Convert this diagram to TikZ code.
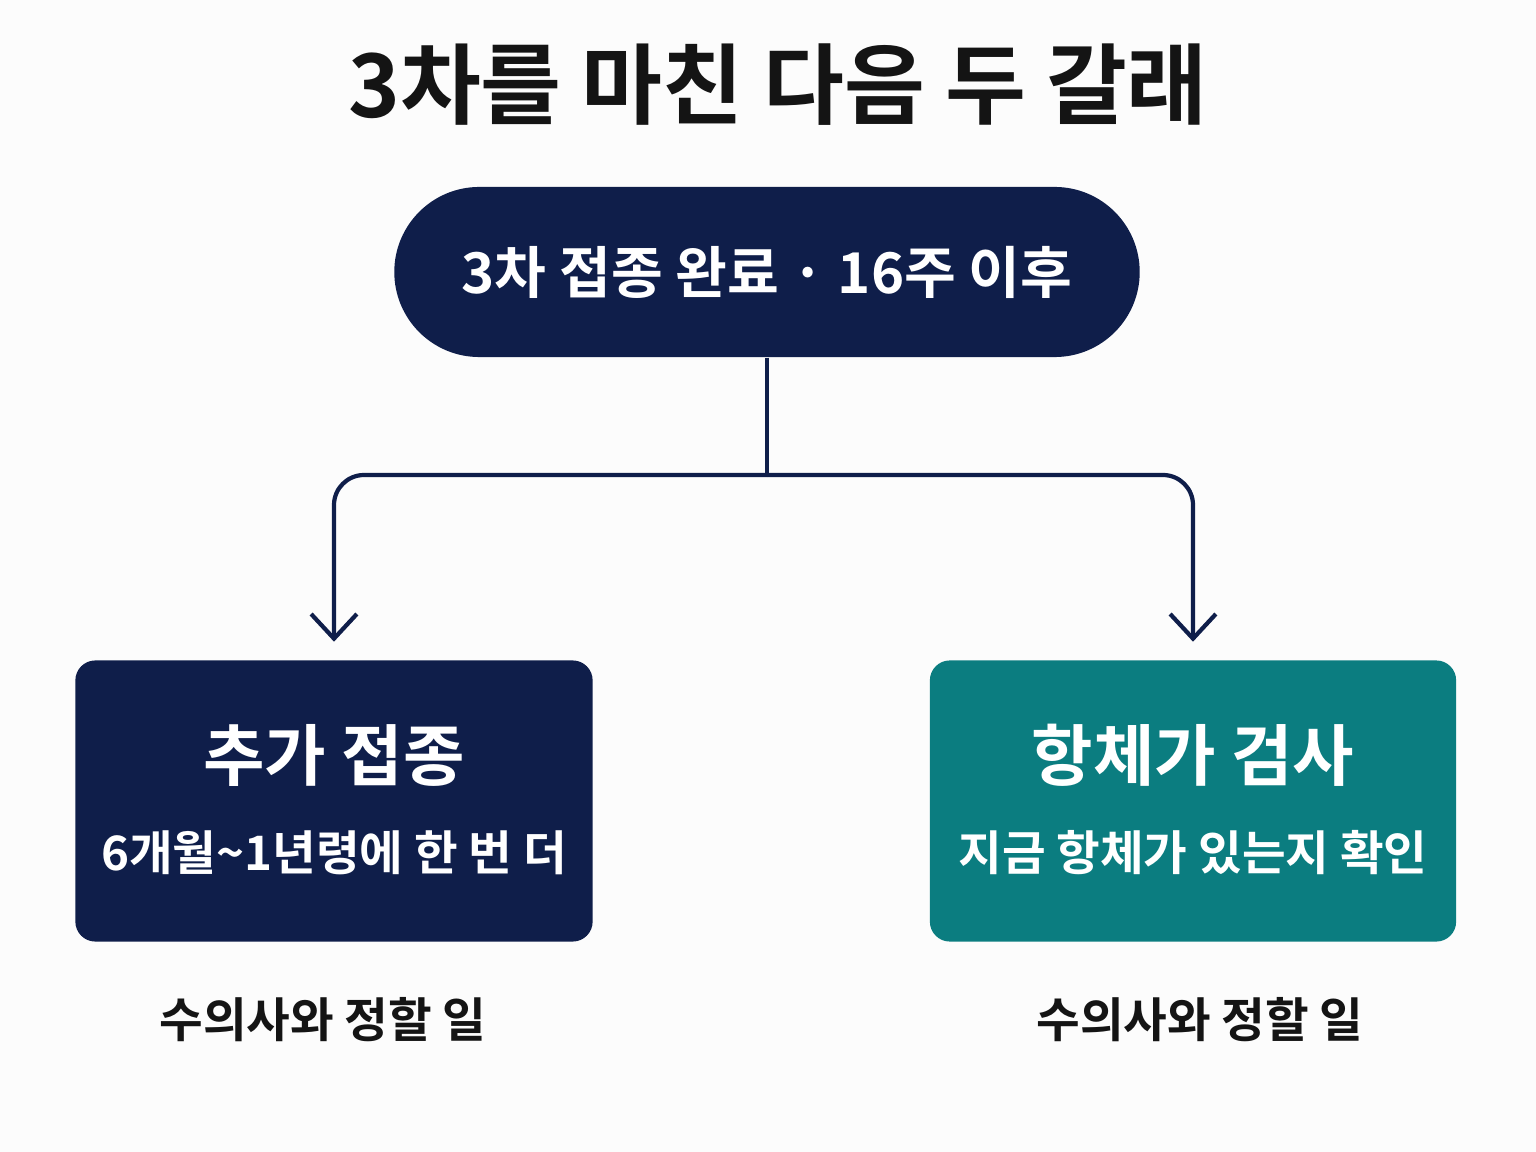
\documentclass[tikz,border=0pt]{standalone}
\usepackage{fontspec}
\usepackage{xcolor}
\setmainfont{Noto Sans CJK KR}
\newfontfamily\krbold{Noto Sans CJK KR Bold}
\usetikzlibrary{arrows.meta}
\definecolor{navy}{HTML}{0F1E4A}
\definecolor{tealbox}{HTML}{0B7D80}
\definecolor{ink}{HTML}{141414}

\begin{document}
\begin{tikzpicture}[x=0.01cm, y=-0.01cm,
    card/.style={rounded corners=0.2cm, minimum height=2.81cm, inner sep=0pt},
    link/.style={draw=navy, line width=1.2pt, rounded corners=0.3cm, -{Straight Barb[length=7pt, width=13pt, line width=1.2pt]}, shorten >=0.18cm}]
      \useasboundingbox[fill=white!98!gray] (0,0) rectangle (1536,1152);
      \node[font=\krbold\fontsize{25}{28}\selectfont, text=ink] (title) at (778,85) {3차를 마친 다음 두 갈래};
      \node[fill=navy, rounded corners=0.85cm, minimum width=7.45cm, minimum height=1.7cm,
            text=white, font=\krbold\fontsize{16}{18}\selectfont] (start) at (767,272) {3차 접종 완료 · 16주 이후};
      \node[card, fill=navy, minimum width=5.17cm] (boost) at (334,801) {};
      \node[card, fill=tealbox, minimum width=5.26cm] (test) at (1193,801) {};
      % box texts
      \node[text=white, font=\krbold\fontsize{19}{22}\selectfont] (boostT) at (334,755) {추가 접종};
      \node[text=white, font=\krbold\fontsize{13.5}{16}\selectfont] (boostS) at (334,853) {6개월\textasciitilde 1년령에 한 번 더};
      \node[text=white, font=\krbold\fontsize{19}{22}\selectfont] (testT) at (1193,755) {항체가 검사};
      \node[text=white, font=\krbold\fontsize{13.5}{16}\selectfont] (testS) at (1193,853) {지금 항체가 있는지 확인};
      \node[text=ink, font=\krbold\fontsize{13.5}{16}\selectfont] (boostC) at (323,1020) {수의사와 정할 일};
      \node[text=ink, font=\krbold\fontsize{13.5}{16}\selectfont] (testC) at (1200,1020) {수의사와 정할 일};
      % connectors
      \coordinate (split) at (767,475);
      \draw[navy, line width=1.2pt] (start.south) -- (split);
      \draw[link] (split) -| (boost.north);
      \draw[link] (split) -| (test.north);
\end{tikzpicture}
\end{document}
